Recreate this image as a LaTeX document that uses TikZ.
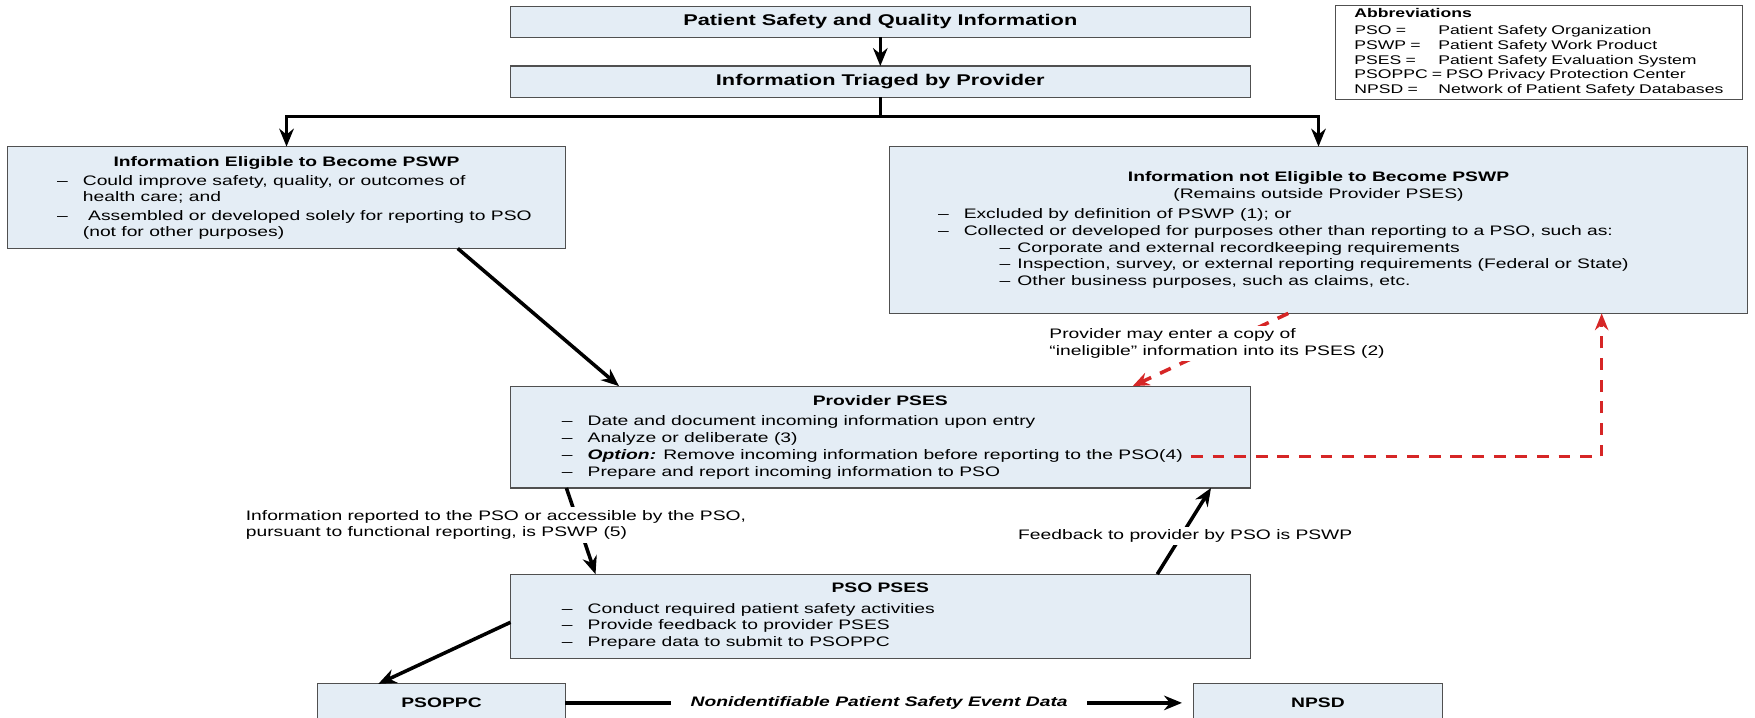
\documentclass[tikz,border=0pt]{standalone}
\usepackage{fontspec}
\setmainfont{Liberation Sans}[FakeStretch=1.4]
\usepackage{tikz}
\usetikzlibrary{arrows.meta, calc, positioning}
\definecolor{boxblue}{RGB}{228,237,245}
\definecolor{boxline}{RGB}{80,80,80}
\definecolor{red}{RGB}{214,38,38}
\newcommand{\dashitem}[2]{\makebox[#1][l]{\makebox[0.46cm][l]{–}#2}}
\newcommand{\dashcont}[2]{\makebox[#1][l]{\hspace*{0.46cm}#2}}
\newcommand{\dashsub}[2]{\makebox[#1][l]{\hspace*{1.1cm}\makebox[0.32cm][l]{–}#2}}

\begin{document}
\begin{tikzpicture}[x=0.02cm, y=0.02cm,
    every node/.style={font=\fontsize{7}{8.5}\selectfont, inner sep=0pt, outer sep=0pt},
    box/.style={draw=boxline, line width=0.6pt, fill=boxblue, align=center},
    titlebox/.style={box, minimum width=13.22cm, minimum height=0.56cm, font=\fontsize{7.9}{9}\selectfont\bfseries},
    arr/.style={line width=1.8pt, -{Stealth[length=0.32cm, width=0.26cm]}},
    redarr/.style={draw=red, line width=1.8pt, dash pattern=on 6pt off 5pt, -{Stealth[length=0.3cm, width=0.24cm]}},
    lbl/.style={fill=white, inner sep=1.5pt, align=left}]
    \fill[white] (0,0) rectangle (1568,-641);
    \useasboundingbox (0,0) rectangle (1568,-641);

    \node[titlebox] (safety) at (786.5,-19.5) {Patient Safety and Quality Information};
    \node[titlebox] (triage) at (786.5,-73) {Information Triaged by Provider};
    \node[draw=boxline, line width=0.6pt, fill=white, minimum width=7.28cm, minimum height=1.68cm, text width=6.6cm, align=left, font=\fontsize{6.4}{7.5}\selectfont] (abbrev) at (1375,-47) {\textbf{Abbreviations}\\[1pt]
        \makebox[1.5cm][l]{PSO =}Patient Safety Organization\\
        \makebox[1.5cm][l]{PSWP =}Patient Safety Work Product\\
        \makebox[1.5cm][l]{PSES =}Patient Safety Evaluation System\\
        PSOPPC =\hspace{0.3em}PSO Privacy Protection Center\\
        \makebox[1.5cm][l]{NPSD =}Network of Patient Safety Databases};

    \node[box, minimum width=9.96cm, minimum height=1.82cm, font=\fontsize{7}{8}\selectfont] (elig) at (256,-176.5) {\textbf{Information Eligible to Become PSWP}\\[2pt]
        \dashitem{8.2cm}{Could improve safety, quality, or outcomes of}\\
        \dashcont{8.2cm}{health care; and}\\[1.5pt]
        \dashitem{8.2cm}{\ Assembled or developed solely for reporting to PSO}\\
        \dashcont{8.2cm}{(not for other purposes)}};
    \node[box, minimum width=15.32cm, minimum height=2.98cm] (notelig) at (1178,-205.5) {\textbf{Information not Eligible to Become PSWP}\\
        (Remains outside Provider PSES)\\[2pt]
        \dashitem{13.6cm}{Excluded by definition of PSWP (1); or}\\
        \dashitem{13.6cm}{Collected or developed for purposes other than reporting to a PSO, such as:}\\
        \dashsub{13.6cm}{Corporate and external recordkeeping requirements}\\
        \dashsub{13.6cm}{Inspection, survey, or external reporting requirements (Federal or State)}\\
        \dashsub{13.6cm}{Other business purposes, such as claims, etc.}};

    \node[box, minimum width=13.22cm, minimum height=1.82cm] (prov) at (786.5,-390.5) {\textbf{Provider PSES}\\[2pt]
        \dashitem{11.38cm}{Date and document incoming information upon entry}\\
        \dashitem{11.38cm}{Analyze or deliberate (3)}\\
        \dashitem{11.38cm}{\textbf{\textit{Option:}} Remove incoming information before reporting to the PSO(4)}\\
        \dashitem{11.38cm}{Prepare and report incoming information to PSO}};
    \node[box, minimum width=13.22cm, minimum height=1.5cm] (pso) at (786.5,-550.5) {\textbf{PSO PSES}\\[2pt]
        \dashitem{11.38cm}{Conduct required patient safety activities}\\
        \dashitem{11.38cm}{Provide feedback to provider PSES}\\
        \dashitem{11.38cm}{Prepare data to submit to PSOPPC}};

    \node[box, minimum width=4.42cm, minimum height=0.68cm, font=\fontsize{7}{8.1}\selectfont\bfseries] (psoppc) at (394.5,-628) {PSOPPC};
    \node[box, minimum width=4.46cm, minimum height=0.68cm, font=\fontsize{7}{8.1}\selectfont\bfseries] (npsd) at (1177.5,-628) {NPSD};

    \coordinate (optend) at (1064,-408);
    \coordinate (corner) at (1431,-408);

    % triage
    \draw[arr] (safety) -- (triage);
    \draw[line width=1.8pt] (triage.south) -- ++(0,-17) coordinate (split);
    \draw[arr] (split) -| (elig.north);
    \draw[arr] (split) -| (notelig.north);

    % into provider PSES
    \draw[arr] ([xshift=3.06cm]elig.south) -- ([xshift=1.94cm]prov.north west);
    \draw[redarr] ([xshift=-0.54cm]notelig.south) -- ([xshift=-2.1cm]prov.north east);
    \node[lbl, anchor=west] (copynote) at (935,-307) {Provider may enter a copy of\\“ineligible” information into its PSES (2)};
    \draw[redarr] (optend) -- (corner) -- (corner |- notelig.south);

    % provider and PSO
    \draw[arr] ([xshift=1.0cm]prov.south west) -- ([xshift=1.52cm]pso.north west);
    \node[lbl, anchor=west] (reportnote) at (217,-469) {Information reported to the PSO or accessible by the PSO,\\pursuant to functional reporting, is PSWP (5)};
    \draw[arr] ([xshift=-1.66cm]pso.north east) -- ([xshift=-0.7cm]prov.south east);
    \node[lbl, anchor=west] (feednote) at (907,-479) {Feedback to provider by PSO is PSWP};

    % data out
    \draw[arr] ([yshift=-0.11cm]pso.west) -- ([xshift=1.08cm]psoppc.north west);
    \draw[arr, shorten >=0.2cm] (psoppc) -- (npsd) node[lbl, midway, inner xsep=0.35cm, font=\fontsize{7}{8.1}\selectfont\bfseries\itshape] (eventdata) {Nonidentifiable Patient Safety Event Data};
\end{tikzpicture}
\end{document}
